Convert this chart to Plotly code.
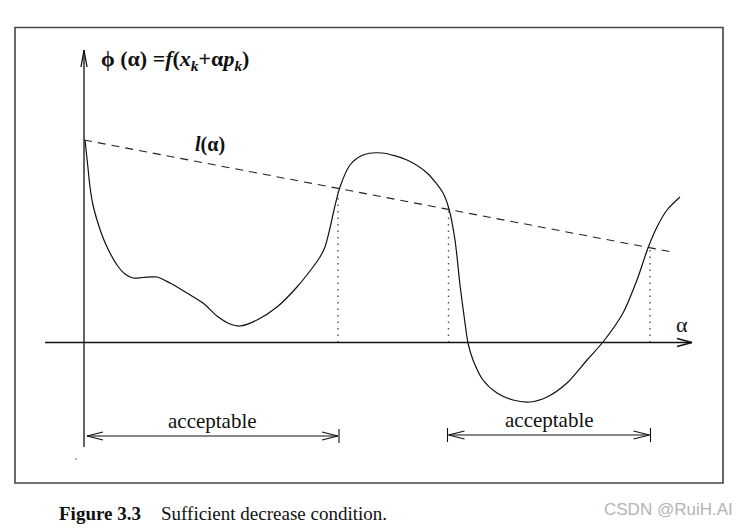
import plotly.graph_objects as go

# ---- data (alpha, phi) in schematic units ----
alpha_pts = [0.01, 0.04, 0.06, 0.09, 0.13, 0.18, 0.23, 0.33, 0.41, 0.49, 0.59, 0.73, 0.86, 1.03,
             1.19, 1.33, 1.46, 1.56, 1.73, 1.93, 2.13, 2.29, 2.36, 2.41, 2.46, 2.50, 2.56, 2.66,
             2.79, 2.98, 3.23, 3.43, 3.59, 3.65, 3.71, 3.76, 3.81, 3.84, 3.89, 3.99, 4.13, 4.29,
             4.46, 4.63, 4.83, 5.03, 5.19, 5.39, 5.53, 5.64, 5.73, 5.83, 5.96]
phi_pts = [2.025, 1.745, 1.555, 1.375, 1.225, 1.075, 0.955, 0.775, 0.685, 0.645, 0.65, 0.655,
           0.595, 0.495, 0.395, 0.265, 0.185, 0.165, 0.225, 0.355, 0.555, 0.755, 0.855, 0.955,
           1.145, 1.325, 1.555, 1.775, 1.875, 1.895, 1.825, 1.695, 1.495, 1.335, 1.025, 0.575,
           0.195, -0.005, -0.175, -0.375, -0.505, -0.575, -0.595, -0.545, -0.405, -0.175, 0.005,
           0.295, 0.625, 0.945, 1.155, 1.325, 1.455]

l0 = 2.025          # l(0) = phi(0)
l_slope = -0.1905   # c1 * phi'(0)
l_alpha_end = 5.88
accept_bounds = [2.54, 3.645, 5.66]
intervals = [(0.03, 2.54), (3.645, 5.655)]
interval_labels = ["acceptable", "acceptable"]

# ---- geometry helpers (origin of axes in page pixels, 100 px per unit) ----
OX, OY, S = 84.0, 342.5, 100.0
W, H = 751, 528
def X(px): return (px - OX) / S
def Y(py): return (OY - py) / S

fig = go.Figure()

# phi curve
fig.add_trace(go.Scatter(x=alpha_pts, y=phi_pts, mode="lines",
                         line=dict(color="#111111", width=1.2, shape="spline", smoothing=0.8),
                         hoverinfo="skip"))
# l(alpha) dashed line
fig.add_trace(go.Scatter(x=[0, l_alpha_end], y=[l0, l0 + l_slope * l_alpha_end], mode="lines",
                         line=dict(color="#222222", width=1.1, dash="8px,6px"), hoverinfo="skip"))
# dotted verticals
dx, dy = [], []
for a in accept_bounds:
    dx += [a, a, None]
    dy += [0, l0 + l_slope * a, None]
fig.add_trace(go.Scatter(x=dx, y=dy, mode="lines",
                         line=dict(color="#555555", width=1.4, dash="1.5px,5px"), hoverinfo="skip"))

# axes with open arrowheads
ax_x, ax_y = [], []
ax_x += [X(45), X(692), None]; ax_y += [0, 0, None]
ax_x += [X(677), X(692), X(677), None]; ax_y += [Y(338.5), 0, Y(346.5), None]
ax_x += [0, 0, None]; ax_y += [Y(447), Y(50), None]
ax_x += [X(81), 0, X(87), None]; ax_y += [Y(67), Y(50), Y(67), None]
fig.add_trace(go.Scatter(x=ax_x, y=ax_y, mode="lines",
                         line=dict(color="#111111", width=1.3), hoverinfo="skip"))

# acceptable intervals
iy = [Y(436), Y(435)]
ix_, iy_ = [], []
for k, (a0, a1) in enumerate(intervals):
    yv = iy[k]
    ix_ += [a0, a1, None]; iy_ += [yv, yv, None]
    ah, hw = 0.16, 0.04
    ix_ += [a0 + ah, a0, a0 + ah, None]; iy_ += [yv + hw, yv, yv - hw, None]
    ix_ += [a1 - ah, a1, a1 - ah, None]; iy_ += [yv + hw, yv, yv - hw, None]
    ix_ += [a1 + 0.01, a1 + 0.01, None]; iy_ += [yv + 0.07, yv - 0.07, None]
    if k == 1:
        ix_ += [a0 - 0.01, a0 - 0.01, None]; iy_ += [yv + 0.07, yv - 0.07, None]
    fig.add_annotation(x=(a0 + a1) / 2, y=yv + 0.155, text=interval_labels[k], showarrow=False,
                       font=dict(family="Liberation Serif", size=21, color="#111111"))
fig.add_trace(go.Scatter(x=ix_, y=iy_, mode="lines",
                         line=dict(color="#111111", width=1.1), hoverinfo="skip"))

# frame
fig.add_shape(type="rect", x0=X(15), x1=X(723), y0=Y(27.5), y1=Y(483),
              line=dict(color="#444444", width=1.6))

# labels
fig.add_annotation(x=X(99), y=Y(60), xanchor="left", showarrow=False,
                   text="<b>ϕ (α) =<i>f</i>(<i>x</i><sub><i>k</i></sub>+α<i>p</i><sub><i>k</i></sub>)</b>",
                   font=dict(family="Liberation Serif", size=22, color="#111111"))
fig.add_annotation(x=X(210), y=Y(144), showarrow=False,
                   text="<b><i>l</i>(α)</b>",
                   font=dict(family="Liberation Serif", size=20, color="#111111"))
fig.add_annotation(x=X(682), y=Y(324), showarrow=False, text="α",
                   font=dict(family="Liberation Serif", size=22, color="#111111"))
fig.add_annotation(x=X(57), y=Y(513), xanchor="left", showarrow=False, text="<b>Figure 3.3</b>",
                   font=dict(family="Liberation Serif", size=19, color="#111111"))
fig.add_annotation(x=X(159), y=Y(513), xanchor="left", showarrow=False,
                   text="Sufficient decrease condition.",
                   font=dict(family="Liberation Serif", size=19, color="#111111"))
fig.add_annotation(x=X(602), y=Y(509), xanchor="left", showarrow=False, text="CSDN @RuiH.AI",
                   font=dict(family="Liberation Sans", size=17, color="#b4b4b4"))
# stray dot
fig.add_trace(go.Scatter(x=[X(76)], y=[Y(459)], mode="markers",
                         marker=dict(size=2, color="#999999"), hoverinfo="skip"))

fig.update_layout(width=W, height=H, margin=dict(l=0, r=0, t=0, b=0),
                  paper_bgcolor="white", plot_bgcolor="white", showlegend=False,
                  xaxis=dict(range=[X(0), X(W)], visible=False, fixedrange=True),
                  yaxis=dict(range=[Y(H), Y(0)], visible=False, fixedrange=True))
fig.write_html("out.html", config={"displayModeBar": False})
